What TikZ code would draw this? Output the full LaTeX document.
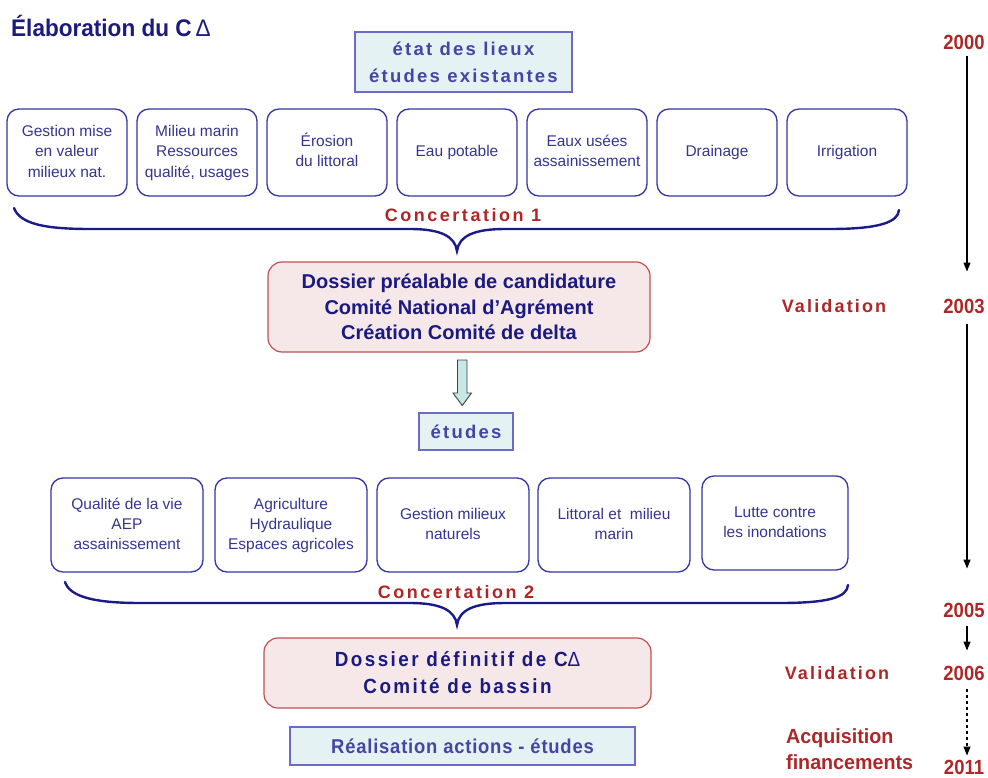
\documentclass[tikz,border=0pt]{standalone}
\usepackage{fontspec}
\setmainfont{Liberation Sans}
\newfontfamily\titlef[FakeStretch=0.94]{Liberation Sans}
\newfontfamily\yearf[FakeStretch=0.9]{Liberation Sans}
\newfontfamily\acqf[FakeStretch=0.96]{Liberation Sans}
\newfontfamily\realf[FakeStretch=0.92,LetterSpace=4]{Liberation Sans}
\newfontfamily\etatf[LetterSpace=12]{Liberation Sans}
\newfontfamily\concf[LetterSpace=14]{Liberation Sans}
\newfontfamily\valf[LetterSpace=12]{Liberation Sans}
\newfontfamily\defif[LetterSpace=12,FakeStretch=0.92]{Liberation Sans}
\usetikzlibrary{arrows.meta}
\newcommand{\stk}[2][0pt]{\raisebox{#1}{\begin{tabular}{@{}c@{}}#2\end{tabular}}}
\definecolor{navy}{HTML}{1A1A80}
\definecolor{bracecol}{HTML}{1A1A8C}
\definecolor{boxblue}{HTML}{3535A5}
\definecolor{txtblue}{HTML}{35358F}
\definecolor{darkred}{HTML}{B02525}
\definecolor{pinkfill}{HTML}{F6E8E8}
\definecolor{pinkline}{HTML}{C05050}
\definecolor{cyanfill}{HTML}{E4F2F3}
\definecolor{cyanline}{HTML}{6A6AC8}
\definecolor{spacedblue}{HTML}{4545A5}
\definecolor{arrowfill}{HTML}{C8E6E6}
\tikzset{
  topbox/.style={draw=boxblue, line width=1.3pt, rounded corners=12pt,
    minimum width=120pt, minimum height=87pt, align=center, text=txtblue,
    font=\fontsize{15.5}{20.5}\selectfont, inner sep=0pt},
  botbox/.style={topbox, minimum width=152pt, minimum height=94pt,
    font=\fontsize{15.5}{20}\selectfont},
  cyanbox/.style={draw=cyanline, line width=1.2pt, fill=cyanfill, align=center,
    text=spacedblue, inner sep=0pt},
  pinkbox/.style={draw=pinkline, line width=1.2pt, fill=pinkfill, rounded corners=14pt,
    align=center, text=navy, inner sep=0pt},
  conclbl/.style={text=darkred, inner sep=0pt, font=\concf\bfseries\fontsize{18}{20}\selectfont},
  vallbl/.style={text=darkred, inner sep=0pt, font=\valf\bfseries\fontsize{18}{20}\selectfont},
  year/.style={text=darkred, inner sep=0pt, font=\yearf\bfseries\fontsize{20.5}{22}\selectfont},
  brace/.style={draw=bracecol, line width=2.4pt, line cap=round},
  tl/.style={draw=black, line width=1.1pt, -{Triangle[length=9pt,width=7pt]}}
}
\begin{document}
\begin{tikzpicture}[x=1pt, y=-1pt]
\useasboundingbox (0,0) rectangle (988,778);

% title
\node[anchor=west, text=navy, inner sep=0pt, font=\titlef\bfseries\fontsize{24}{26}\selectfont]
  (title) at (11,26) {Élaboration du C\,{\mdseries Δ}};

% top cyan box
\node[cyanbox, minimum width=217pt, minimum height=60pt,
  font=\etatf\bfseries\fontsize{18.5}{27}\selectfont] (etat) at (463.5,62)
  {état des lieux\\études existantes};

% top row boxes
\node[topbox] (t1) at (67,152.5) {\stk{Gestion mise\\en valeur\\milieux nat.}};
\node[topbox] (t2) at (197,152.5) {\stk{Milieu marin\\Ressources\\qualité, usages}};
\node[topbox] (t3) at (327,152.5) {\stk{Érosion\\du littoral}};
\node[topbox] (t4) at (457,152.5) {\stk[-4.5pt]{Eau potable}};
\node[topbox] (t5) at (587,152.5) {\stk[-3pt]{Eaux usées\\assainissement}};
\node[topbox] (t6) at (717,152.5) {\stk[1.5pt]{Drainage}};
\node[topbox] (t7) at (847,152.5) {\stk[1.5pt]{Irrigation}};

% brace 1
\coordinate (b1l) at (14,208);
\coordinate (b1t) at (457,251);
\coordinate (b1r) at (899,210);
\draw[brace] (b1l) .. controls (20,224) and (45,229) .. (90,229)
  -- (410,229) .. controls (440,229) and (455,236) .. (b1t)
  .. controls (459,236) and (474,229) .. (505,229)
  -- (830,229) .. controls (880,229) and (898,222) .. (b1r);
\node[conclbl] (conc1) at (463,215) {Concertation 1};

% dossier prealable
\node[pinkbox, minimum width=382pt, minimum height=90pt,
  font=\bfseries\fontsize{20}{25.5}\selectfont] (dp) at (459,307)
  {Dossier préalable de candidature\\Comité National d’Agrément\\Création Comité de delta};

% block arrow
\draw[draw=black!75, fill=arrowfill, line width=0.9pt, line join=miter]
  (457.5,360) -- (467,360) -- (467,393) -- (471.5,393) -- (462.3,405.5)
  -- (453,393) -- (457.5,393) -- cycle;

% etudes
\node[cyanbox, minimum width=94pt, minimum height=37pt,
  font=\etatf\bfseries\fontsize{18.5}{20}\selectfont] (etudes) at (466,431.5) {études};

% bottom row
\node[botbox] (u1) at (127,525) {\stk[2pt]{Qualité de la vie\\AEP\\assainissement}};
\node[botbox] (u2) at (291,525) {\stk[5pt]{Agriculture\\Hydraulique\\Espaces agricoles}};
\node[botbox] (u3) at (453,525) {\stk[2.5pt]{Gestion milieux\\naturels}};
\node[botbox] (u4) at (614,525) {\stk[2.5pt]{Littoral et~ milieu\\marin}};
\node[botbox, minimum width=146pt] (u5) at (775,523) {\stk[4pt]{Lutte contre\\les inondations}};

% brace 2
\coordinate (b2l) at (65,582);
\coordinate (b2t) at (457,625);
\coordinate (b2r) at (848,585);
\draw[brace] (b2l) .. controls (70,597) and (95,603) .. (140,603)
  -- (410,603) .. controls (440,603) and (455,610) .. (b2t)
  .. controls (459,610) and (474,603) .. (505,603)
  -- (780,603) .. controls (830,603) and (847,597) .. (b2r);
\node[conclbl] (conc2) at (456,592) {Concertation 2};

% dossier definitif
\node[pinkbox, minimum width=387pt, minimum height=70pt,
  font=\defif\bfseries\fontsize{20.5}{27}\selectfont] (dd) at (457.5,673)
  {Dossier définitif de C{\mdseries Δ}\\Comité de bassin};

% realisation
\node[cyanbox, minimum width=345pt, minimum height=38pt,
  font=\realf\bfseries\fontsize{20}{22}\selectfont] (real) at (462.5,746)
  {Réalisation actions - études};

% right side labels
\node[vallbl] (val1) at (834,306) {Validation};
\node[vallbl] (val2) at (837,673) {Validation};
\node[anchor=west, align=left, text=darkred, inner sep=0pt,
  font=\acqf\bfseries\fontsize{20.5}{26}\selectfont] (acq) at (786,749)
  {Acquisition\\financements};

% years
\node[year] (y2000) at (964,42) {2000};
\node[year] (y2003) at (964,306) {2003};
\node[year] (y2005) at (964,610) {2005};
\node[year] (y2006) at (964,673) {2006};
\node[year] (y2011) at (964,767) {2011};

\draw[tl, shorten <=7pt, shorten >=27pt] ([xshift=3pt]y2000.south) -- ([xshift=3pt]y2003.north);
\draw[tl, shorten <=11pt, shorten >=34pt] ([xshift=3pt]y2003.south) -- ([xshift=3pt]y2005.north);
\draw[tl, shorten <=9pt, shorten >=15pt] ([xshift=3pt]y2005.south) -- ([xshift=3pt]y2006.north);
\draw[tl, dashed, shorten <=9pt, shorten >=4pt] ([xshift=3pt]y2006.south) -- ([xshift=3pt]y2011.north);
\end{tikzpicture}
\end{document}
